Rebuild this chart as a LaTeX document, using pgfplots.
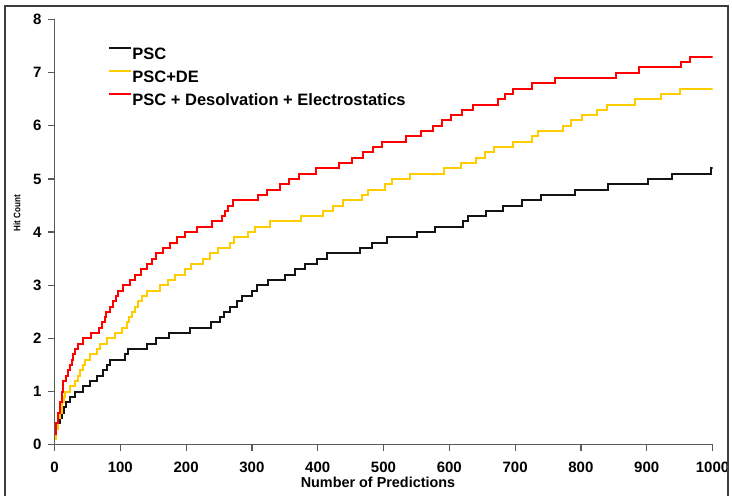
\documentclass[border=0pt]{standalone}
\usepackage{fontspec}
\setmainfont{Liberation Sans}[UprightFont={* Bold}, BoldFont={* Bold}]
\usepackage{pgfplots}
\pgfplotsset{compat=1.18}

\definecolor{pscblack}{RGB}{20,20,20}
\definecolor{pscyellow}{RGB}{255,204,0}
\definecolor{pscred}{RGB}{255,0,0}
\definecolor{framegray}{RGB}{60,60,60}
\definecolor{axisgray}{RGB}{90,90,90}

\begin{document}
\begin{tikzpicture}
\begin{axis}[
    at={(0pt,0pt)}, anchor=south west,
    scale only axis, width=329pt, height=212.6pt,
    xmin=0, xmax=1000, ymin=0, ymax=8,
    xtick={0,100,...,1000}, ytick={0,1,...,8},
    axis x line*=bottom, axis y line*=left,
    axis line style={axisgray, line width=0.6pt},
    tick style={axisgray, line width=0.6pt},
    tick align=outside, major tick length=3pt,
    /pgf/number format/assume math mode=true,
    /pgf/number format/set thousands separator={},
    ticklabel style={font=\bfseries\fontsize{7.5}{9}\selectfont},
    xticklabel style={yshift=-2pt},
    xlabel={Number of Predictions},
    xlabel style={font=\bfseries\fontsize{7.2}{8}\selectfont,
        at={(axis description cs:0.4916,-0.1005)}, anchor=base},
    ylabel={\scalebox{0.47}[0.55]{Hit Count}},
    ylabel style={font=\bfseries\fontsize{8.6}{9}\selectfont,
        at={(axis description cs:-0.057,0.545)}, anchor=center},
    legend cell align=left,
    legend style={draw=none, fill=none, inner sep=0pt,
        at={(axis description cs:0.0813,0.937)}, anchor=north west,
        row sep=5.25pt, font=\bfseries\fontsize{8.25}{10}\selectfont,
        nodes={inner sep=0pt, text height=6pt, text depth=0pt},
        /tikz/every even column/.append style={column sep=1.5pt}},
    legend image code/.code={\draw[#1] (0pt,2.8pt) -- (11pt,2.8pt);},
]
% PSC
\addplot[const plot, pscblack, line width=1pt] table {
x y
0 0.1
2 0.3
5 0.4
8 0.5
11 0.6
15 0.7
18 0.8
24 0.9
31 1.0
44 1.1
54 1.2
64 1.3
74 1.4
80 1.5
84 1.6
107 1.7
111 1.8
141 1.9
154 2.0
174 2.1
206 2.2
238 2.3
252 2.4
257 2.5
267 2.6
277 2.7
285 2.8
300 2.9
308 3.0
324 3.1
350 3.2
366 3.3
381 3.4
399 3.5
414 3.6
464 3.7
483 3.8
505 3.9
551 4.0
578 4.1
621 4.2
629 4.3
656 4.4
682 4.5
710 4.6
739 4.7
791 4.8
841 4.9
902 5.0
938 5.1
998 5.2
1000 5.2
};
\addlegendentry{PSC}
% PSC+DE
\addplot[const plot, pscyellow, line width=1pt] table {
x y
0 0.1
3 0.3
6 0.5
8 0.6
11 0.8
14 0.9
16 1.0
24 1.1
31 1.2
36 1.3
39 1.4
43 1.5
46 1.6
54 1.7
64 1.8
69 1.9
80 2.0
92 2.1
102 2.2
110 2.3
113 2.4
118 2.5
122 2.6
127 2.7
133 2.8
140 2.9
160 3.0
173 3.1
183 3.2
198 3.3
208 3.4
226 3.5
236 3.6
248 3.7
267 3.8
273 3.9
294 4.0
305 4.1
328 4.2
375 4.3
408 4.4
423 4.5
438 4.6
468 4.7
477 4.8
502 4.9
513 5.0
540 5.1
592 5.2
618 5.3
640 5.4
654 5.5
668 5.6
697 5.7
726 5.8
735 5.9
773 6.0
785 6.1
802 6.2
824 6.3
840 6.4
882 6.5
922 6.6
950 6.7
1000 6.7
};
\addlegendentry{PSC+DE}
% PSC + Desolvation + Electrostatics
\addplot[const plot, pscred, line width=1pt] table {
x y
0 0.2
3 0.4
6 0.6
8 0.8
11 1.0
13 1.2
17 1.3
21 1.4
24 1.5
26 1.6
28 1.7
31 1.8
36 1.9
44 2.0
56 2.1
67 2.2
72 2.3
77 2.4
79 2.5
84 2.6
89 2.7
93 2.8
97 2.9
104 3.0
115 3.1
122 3.2
132 3.3
140 3.4
148 3.5
155 3.6
165 3.7
176 3.8
186 3.9
198 4.0
216 4.1
239 4.2
254 4.3
259 4.4
264 4.5
271 4.6
309 4.7
323 4.8
343 4.9
356 5.0
372 5.1
397 5.2
432 5.3
452 5.4
469 5.5
484 5.6
497 5.7
534 5.8
557 5.9
575 6.0
589 6.1
602 6.2
619 6.3
636 6.4
674 6.5
684 6.6
697 6.7
725 6.8
761 6.9
853 7.0
888 7.1
952 7.2
966 7.3
1000 7.3
};
\addlegendentry{PSC + Desolvation + Electrostatics}
\end{axis}
\draw[framegray, line width=0.8pt] (-24.75pt,-30pt) -- (-24.75pt,219.35pt) -- (336.75pt,219.35pt) -- (336.75pt,-30pt);
\pgfresetboundingbox
\path[use as bounding box] (-27.25pt,-25.65pt) rectangle (338.75pt,222.35pt);
\end{tikzpicture}
\end{document}
